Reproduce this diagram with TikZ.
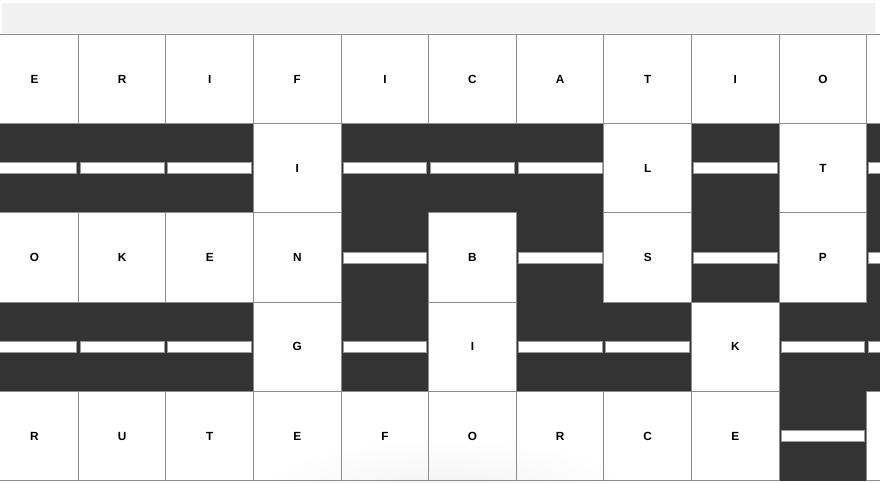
\documentclass[tikz,border=0pt]{standalone}
\usepackage{fontspec}
\setmainfont{Liberation Sans}
\definecolor{darkc}{HTML}{333333}
\definecolor{cellline}{HTML}{8C8C8C}
\definecolor{barline}{HTML}{9A9A9A}
\definecolor{topbarc}{HTML}{F1F1F1}
\begin{document}
\begin{tikzpicture}[x=1pt,y=-1pt,
  cellw/.style={rectangle,draw=cellline,line width=1pt,minimum width=87.6pt,minimum height=89.3pt,inner sep=0pt,outer sep=0pt,font=\bfseries\fontsize{11.8}{12}\selectfont},
  celld/.style={rectangle,fill=darkc,minimum width=87.6pt,minimum height=89.3pt,inner sep=0pt,outer sep=0pt},
  barw/.style={rectangle,fill=white,draw=barline,line width=0.8pt,minimum width=83.8pt,minimum height=11.2pt,inner sep=0pt,outer sep=0pt},
  topstrip/.style={rectangle,fill=topbarc,minimum width=873pt,minimum height=30.3pt,inner sep=0pt,outer sep=0pt}]
\useasboundingbox (0,0) rectangle (880,482);
\clip (0,0) rectangle (880,482);
\fill[white] (0,0) rectangle (880,482);
\node[topstrip] (topbar) at (438.5,18.15) {};
\def\gridrows{0/{E,R,I,F,I,C,A,T,I,O,-},1/{D,D,D,I,D,D,D,L,D,T,D},2/{O,K,E,N,D,B,D,S,D,P,D},3/{D,D,D,G,D,I,D,D,K,D,D},4/{R,U,T,E,F,O,R,C,E,D,-}}
\def\dk{D}
\def\em{-}
% dark cells with bars
\foreach \r/\lst in \gridrows {
  \foreach \t [count=\c from 0] in \lst {
    \edef\cur{\t}
    \ifx\cur\dk
      \node[celld] (d-\r-\c) at ({34.5+87.6*\c},{78.95+89.3*\r}) {};
      \node[barw] (b-\r-\c) at (d-\r-\c.center) {};
    \fi
  }
}
% faint shadow at bottom
\shade[inner color=black!5,outer color=white] (445,494) ellipse [x radius=190,y radius=56];
% white cells
\foreach \r/\lst in \gridrows {
  \foreach \t [count=\c from 0] in \lst {
    \edef\cur{\t}
    \ifx\cur\dk\else
      \ifx\cur\em
        \node[cellw] (w-\r-\c) at ({34.5+87.6*\c},{78.95+89.3*\r}) {};
      \else
        \node[cellw] (w-\r-\c) at ({34.5+87.6*\c},{78.95+89.3*\r}) {\t};
      \fi
    \fi
  }
}
\end{tikzpicture}
\end{document}
